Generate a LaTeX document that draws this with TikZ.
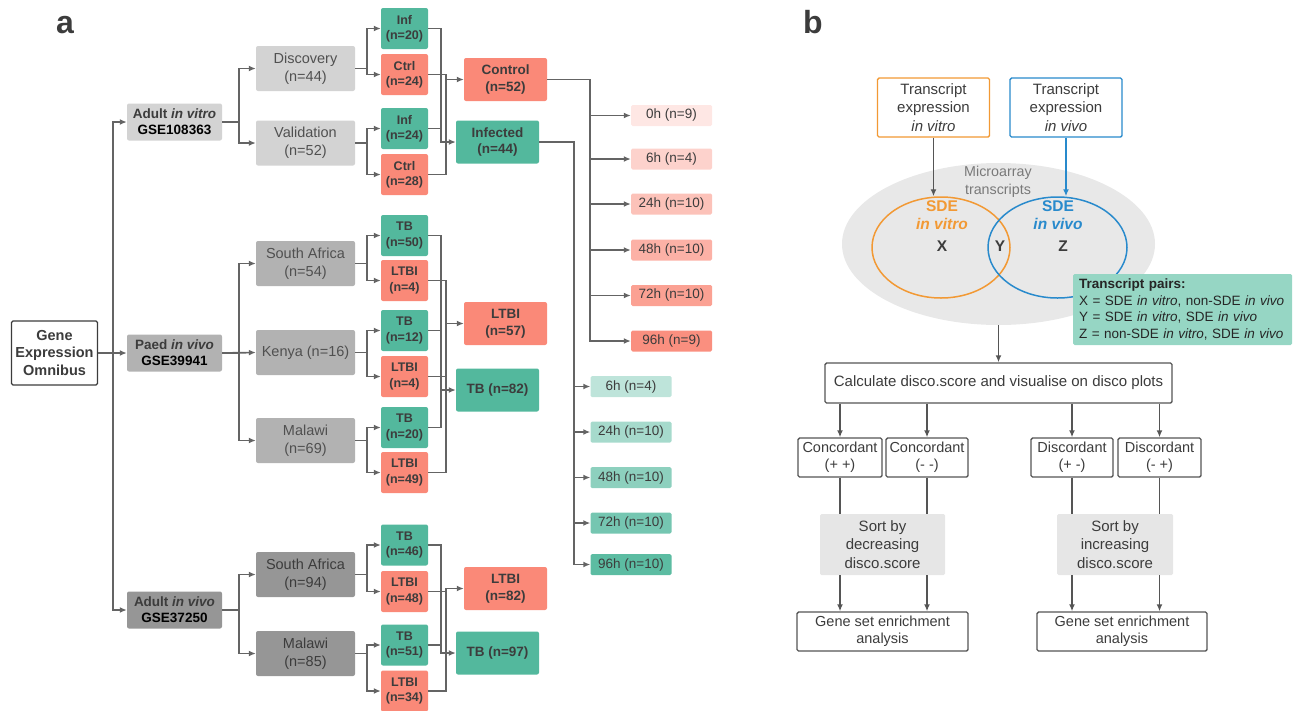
\documentclass[tikz,border=0pt]{standalone}
\usepackage{fontspec}
\setmainfont{Liberation Sans}
\usetikzlibrary{arrows.meta,shapes.geometric}

\definecolor{txt}{RGB}{60,60,60}
\definecolor{linegray}{RGB}{100,100,100}
\definecolor{boxgray}{RGB}{85,85,85}
\definecolor{teal}{RGB}{83,184,157}
\definecolor{salmon}{RGB}{250,137,120}
\definecolor{gray1}{RGB}{211,211,211}
\definecolor{gray2}{RGB}{178,178,178}
\definecolor{gray3}{RGB}{150,150,150}
\definecolor{orangeline}{RGB}{242,153,52}
\definecolor{blueline}{RGB}{40,138,204}
\definecolor{microgray}{RGB}{232,232,232}
\definecolor{pairsfill}{RGB}{150,214,196}
\definecolor{sortfill}{RGB}{230,230,230}

\tikzset{
  conn/.style={draw=linegray, line width=1.7pt},
  geobox/.style={draw=txt, line width=1.4pt, fill=white, rounded corners=1.5pt, align=center,
    minimum width=86pt, minimum height=64pt, inner sep=0pt, text=txt,
    font=\bfseries\fontsize{14.5}{17.5}\selectfont},
  dataset/.style={rounded corners=2pt, align=center, minimum width=95pt, minimum height=37pt,
    inner sep=0pt, text=txt, font=\bfseries\fontsize{13.5}{16}\selectfont},
  cohort/.style={rounded corners=2pt, align=center, minimum width=99pt, minimum height=45pt,
    inner sep=0pt, text=txt!90!white, font=\fontsize{14.5}{17.7}\selectfont},
  group/.style={rounded corners=2pt, align=center, minimum width=47pt, minimum height=41pt,
    inner sep=0pt, text=txt, font=\bfseries\fontsize{12.5}{15.3}\selectfont},
  merged/.style={rounded corners=2pt, align=center, minimum width=83pt, minimum height=43pt,
    inner sep=0pt, text=txt, font=\bfseries\fontsize{13.5}{16.7}\selectfont},
  timept/.style={rounded corners=1.5pt, minimum width=81pt, minimum height=21pt,
    inner sep=0pt, text=txt, font=\fontsize{13.5}{16}\selectfont},
  flowbox/.style={draw=boxgray, line width=1.4pt, fill=white, rounded corners=1.5pt, align=center,
    inner sep=0pt, text=txt, font=\fontsize{14.5}{17.3}\selectfont},
  sortbox/.style={fill=sortfill, rounded corners=1.5pt, align=center, inner sep=0pt, text=txt,
    font=\fontsize{15}{18.7}\selectfont},
  flowarrow/.style={draw=boxgray, line width=1.7pt},
  panel/.style={anchor=base, text=txt, font=\bfseries\fontsize{32}{32}\selectfont}
}

\begin{document}
\begin{tikzpicture}[x=1pt, y=-1pt, >={Latex[length=7pt,width=6pt]}]
    \useasboundingbox (0,0) rectangle (1296,710);

    % Etichette dei pannelli
    \node[panel] (labela) at (65,33) {a};
    \node[panel] (labelb) at (813,33) {b};

    % ---------------- Pannello a ----------------
    % Sorgente dei dati
    \node[geobox] (geo) at (54.5,353) {Gene\\Expression\\Omnibus};

    % Dataset
    \node[dataset, fill=gray1] (avitro) at (174.5,122) {Adult \textit{in vitro}\\\textcolor{black}{GSE108363}};
    \node[dataset, fill=gray2] (paed) at (174.5,353) {Paed \textit{in vivo}\\\textcolor{black}{GSE39941}};
    \node[dataset, fill=gray3] (avivo) at (174.5,610) {Adult \textit{in vivo}\\\textcolor{black}{GSE37250}};

    % Coorti
    \node[cohort, fill=gray1] (disc) at (305.5,68.5) {Discovery\\(n=44)};
    \node[cohort, fill=gray1] (valid) at (305.5,143) {Validation\\(n=52)};
    \node[cohort, fill=gray2] (saP) at (305.5,263.5) {South Africa\\(n=54)};
    \node[cohort, fill=gray2] (kenya) at (305.5,352.5) {Kenya (n=16)};
    \node[cohort, fill=gray2] (malP) at (305.5,440.5) {Malawi\\(n=69)};
    \node[cohort, fill=gray3, text=txt] (saA) at (305.5,574.5) {South Africa\\(n=94)};
    \node[cohort, fill=gray3, text=txt] (malA) at (305.5,653.5) {Malawi\\(n=85)};

    % Gruppi per coorte
    \node[group, fill=teal] (inf1) at (404.5,28.5) {Inf\\(n=20)};
    \node[group, fill=salmon] (ctrl1) at (404.5,74.5) {Ctrl\\(n=24)};
    \node[group, fill=teal] (inf2) at (404.5,128.5) {Inf\\(n=24)};
    \node[group, fill=salmon] (ctrl2) at (404.5,174.5) {Ctrl\\(n=28)};
    \node[group, fill=teal] (tbP1) at (404.5,235.5) {TB\\(n=50)};
    \node[group, fill=salmon] (ltbiP1) at (404.5,280.5) {LTBI\\(n=4)};
    \node[group, fill=teal] (tbP2) at (404.5,330.5) {TB\\(n=12)};
    \node[group, fill=salmon] (ltbiP2) at (404.5,376.5) {LTBI\\(n=4)};
    \node[group, fill=teal] (tbP3) at (404.5,427.5) {TB\\(n=20)};
    \node[group, fill=salmon] (ltbiP3) at (404.5,472.5) {LTBI\\(n=49)};
    \node[group, fill=teal] (tbA1) at (404.5,545) {TB\\(n=46)};
    \node[group, fill=salmon] (ltbiA1) at (404.5,591.5) {LTBI\\(n=48)};
    \node[group, fill=teal] (tbA2) at (404.5,645) {TB\\(n=51)};
    \node[group, fill=salmon] (ltbiA2) at (404.5,691) {LTBI\\(n=34)};

    % Gruppi uniti
    \node[merged, fill=salmon] (control) at (505.5,79.5) {Control\\(n=52)};
    \node[merged, fill=teal] (infd) at (497.5,142) {Infected\\(n=44)};
    \node[merged, fill=salmon] (ltbiP) at (505.5,323.5) {LTBI\\(n=57)};
    \node[merged, fill=teal] (tbP) at (497.5,390) {TB (n=82)};
    \node[merged, fill=salmon] (ltbiA) at (505.5,588.5) {LTBI\\(n=82)};
    \node[merged, fill=teal] (tbA) at (497.5,653) {TB (n=97)};

    % Punti temporali dei controlli
    \node[timept, fill=salmon!20] (c0) at (671.5,115.5) {0h (n=9)};
    \node[timept, fill=salmon!38] (c6) at (671.5,159) {6h (n=4)};
    \node[timept, fill=salmon!52] (c24) at (671.5,204) {24h (n=10)};
    \node[timept, fill=salmon!66] (c48) at (671.5,250) {48h (n=10)};
    \node[timept, fill=salmon!80] (c72) at (671.5,295.5) {72h (n=10)};
    \node[timept, fill=salmon!95] (c96) at (671.5,341) {96h (n=9)};

    % Punti temporali degli infetti
    \node[timept, fill=teal!38] (i6) at (631,386.5) {6h (n=4)};
    \node[timept, fill=teal!52] (i24) at (631,432) {24h (n=10)};
    \node[timept, fill=teal!66] (i48) at (631,477.5) {48h (n=10)};
    \node[timept, fill=teal!80] (i72) at (631,523) {72h (n=10)};
    \node[timept, fill=teal!95] (i96) at (631,564.5) {96h (n=10)};

    % Collegamenti sorgente -> dataset
    \draw[conn, ->] (geo.east) -- ++(15,0) |- (avitro.west);
    \draw[conn, ->] (geo.east) -- (paed.west);
    \draw[conn, ->] (geo.east) -- ++(15,0) |- (avivo.west);

    % Collegamenti dataset -> coorti
    \draw[conn, ->] (avitro.east) -- ++(17,0) |- (disc.west);
    \draw[conn, ->] (avitro.east) -- ++(17,0) |- (valid.west);
    \draw[conn, ->] (paed.east) -- ++(17,0) |- (saP.west);
    \draw[conn, ->] (paed.east) -- (kenya.west);
    \draw[conn, ->] (paed.east) -- ++(17,0) |- (malP.west);
    \draw[conn, ->] (avivo.east) -- ++(17,0) |- (saA.west);
    \draw[conn, ->] (avivo.east) -- ++(17,0) |- (malA.west);

    % Collegamenti coorti -> gruppi
    \draw[conn, ->] (disc.east) -- ++(12,0) |- (inf1.west);
    \draw[conn, ->] (disc.east) -- ++(12,0) |- (ctrl1.west);
    \draw[conn, ->] (valid.east) -- ++(12,0) |- (inf2.west);
    \draw[conn, ->] (valid.east) -- ++(12,0) |- (ctrl2.west);
    \draw[conn, ->] (saP.east) -- ++(12,0) |- (tbP1.west);
    \draw[conn, ->] (saP.east) -- ++(12,0) |- (ltbiP1.west);
    \draw[conn, ->] (kenya.east) -- ++(12,0) |- (tbP2.west);
    \draw[conn, ->] (kenya.east) -- ++(12,0) |- (ltbiP2.west);
    \draw[conn, ->] (malP.east) -- ++(12,0) |- (tbP3.west);
    \draw[conn, ->] (malP.east) -- ++(12,0) |- (ltbiP3.west);
    \draw[conn, ->] (saA.east) -- ++(12,0) |- (tbA1.west);
    \draw[conn, ->] (saA.east) -- ++(12,0) |- (ltbiA1.west);
    \draw[conn, ->] (malA.east) -- ++(12,0) |- (tbA2.west);
    \draw[conn, ->] (malA.east) -- ++(12,0) |- (ltbiA2.west);

    % Bus di unione (TB/Inf e LTBI/Ctrl)
    \coordinate (busT) at (441,0);
    \coordinate (busL) at (446,0);
    \draw[conn, ->] (inf1.east) -- (inf1.east -| busT) |- (infd.west);
    \draw[conn] (inf2.east) -- (inf2.east -| busT);
    \draw[conn] (ctrl1.east) -- (ctrl1.east -| busL) |- (ctrl2.east);
    \draw[conn, ->] (busL |- control.west) -- (control.west);

    \draw[conn] (tbP1.east) -- (tbP1.east -| busT) |- (tbP3.east);
    \draw[conn] (tbP2.east) -- (tbP2.east -| busT);
    \draw[conn, ->] (busT |- tbP.west) -- (tbP.west);
    \draw[conn] (ltbiP1.east) -- (ltbiP1.east -| busL) |- (ltbiP3.east);
    \draw[conn] (ltbiP2.east) -- (ltbiP2.east -| busL);
    \draw[conn, ->] (busL |- ltbiP.west) -- (ltbiP.west);

    \draw[conn, ->] (tbA1.east) -- (tbA1.east -| busT) |- (tbA.west);
    \draw[conn] (tbA2.east) -- (tbA2.east -| busT);
    \draw[conn, ->] (ltbiA2.east) -- (ltbiA2.east -| busL) |- (ltbiA.west);
    \draw[conn] (ltbiA1.east) -- (ltbiA1.east -| busL);

    % Ramificazione verso i punti temporali
    \coordinate (busC) at (590,0);
    \coordinate (busI) at (574,0);
    \draw[conn, ->] (control.east) -- (control.east -| busC) |- (c96.west);
    \draw[conn, ->] (c0.west -| busC) -- (c0.west);
    \draw[conn, ->] (c6.west -| busC) -- (c6.west);
    \draw[conn, ->] (c24.west -| busC) -- (c24.west);
    \draw[conn, ->] (c48.west -| busC) -- (c48.west);
    \draw[conn, ->] (c72.west -| busC) -- (c72.west);
    \draw[conn, ->] (infd.east) -- (infd.east -| busI) |- (i96.west);
    \draw[conn, ->] (i6.west -| busI) -- (i6.west);
    \draw[conn, ->] (i24.west -| busI) -- (i24.west);
    \draw[conn, ->] (i48.west -| busI) -- (i48.west);
    \draw[conn, ->] (i72.west -| busI) -- (i72.west);

    % ---------------- Pannello b ----------------
    % Espressione dei trascritti
    \node[flowbox, draw=orangeline, minimum width=112pt, minimum height=59pt, font=\fontsize{15}{18.3}\selectfont] (vitro) at (933.5,107.5) {Transcript\\expression\\\textit{in vitro}};
    \node[flowbox, draw=blueline, minimum width=112pt, minimum height=59pt, font=\fontsize{15}{18.3}\selectfont] (vivo) at (1066,107.5) {Transcript\\expression\\\textit{in vivo}};

    % Diagramma di Venn
    \node[ellipse, fill=microgray, minimum width=313pt, minimum height=162pt, inner sep=0pt] (micro) at (998.5,244) {};
    \node[text=gray!95!black, align=center, font=\fontsize{14.3}{18}\selectfont] (microlbl) at (998,182) {Microarray\\transcripts};
    \node[ellipse, draw=orangeline, line width=1.5pt, minimum width=138pt, minimum height=101pt, inner sep=0pt] (sdevitro) at (941,247.5) {};
    \node[ellipse, draw=blueline, line width=1.5pt, minimum width=139pt, minimum height=101pt, inner sep=0pt] (sdevivo) at (1057.5,247.5) {};
    \node[text=orangeline, align=center, font=\bfseries\fontsize{15.5}{18}\selectfont] (sdevitrolbl) at (942,215) {SDE\\\textit{in vitro}};
    \node[text=blueline, align=center, font=\bfseries\fontsize{15.5}{18}\selectfont] (sdevivolbl) at (1058,215) {SDE\\\textit{in vivo}};
    \node[text=txt, font=\bfseries\fontsize{15.5}{18}\selectfont] (setx) at (942,246) {X};
    \node[text=txt, font=\bfseries\fontsize{15.5}{18}\selectfont] (sety) at (1000,246) {Y};
    \node[text=txt, font=\bfseries\fontsize{15.5}{18}\selectfont] (setz) at (1063,246) {Z};

    % Legenda delle coppie
    \node[fill=pairsfill, rounded corners=1.5pt, text width=207pt, align=left, inner xsep=6pt, inner ysep=0pt,
          minimum height=71pt, text=black!85, font=\fontsize{13.5}{16.7}\selectfont] (pairs) at (1182.5,309.5)
          {\textbf{Transcript pairs:}\\X = SDE \textit{in vitro}, non-SDE \textit{in vivo}\\Y = SDE \textit{in vitro}, SDE \textit{in vivo}\\Z = non-SDE \textit{in vitro}, SDE \textit{in vivo}};

    \draw[flowarrow, ->] (vitro.south) -- (vitro.south |- sdevitro.north);
    \draw[->, draw=blueline, line width=1.7pt] (vivo.south) -- (vivo.south |- sdevivo.north);

    % Calcolo e classificazione
    \node[flowbox, minimum width=347pt, minimum height=40pt, font=\fontsize{15}{18}\selectfont] (calc) at (998.5,383) {Calculate disco.score and visualise on disco plots};
    \node[flowbox, minimum width=84pt, minimum height=39pt] (conc1) at (840,457.5) {Concordant\\(+ +)};
    \node[flowbox, minimum width=82pt, minimum height=39pt] (conc2) at (927,457.5) {Concordant\\(- -)};
    \node[flowbox, minimum width=82pt, minimum height=39pt] (disc1) at (1072,457.5) {Discordant\\(+ -)};
    \node[flowbox, minimum width=83pt, minimum height=39pt] (disc2) at (1159.5,457.5) {Discordant\\(- +)};
    \node[sortbox, minimum width=125pt, minimum height=61pt] (sortdec) at (882.5,544.5) {Sort by\\decreasing\\disco.score};
    \node[sortbox, minimum width=116pt, minimum height=61pt] (sortinc) at (1115,544.5) {Sort by\\increasing\\disco.score};
    \node[flowbox, minimum width=171pt, minimum height=39pt] (gsea1) at (882.5,631.5) {Gene set enrichment\\analysis};
    \node[flowbox, minimum width=170pt, minimum height=39pt] (gsea2) at (1122,631.5) {Gene set enrichment\\analysis};

    \draw[flowarrow, ->] (micro.south) -- (calc.north);
    \draw[flowarrow, ->] (calc.south -| conc1) -- (conc1.north);
    \draw[flowarrow, ->] (calc.south -| conc2) -- (conc2.north);
    \draw[flowarrow, ->] (calc.south -| disc1) -- (disc1.north);
    \draw[flowarrow, ->] (calc.south -| disc2) -- (disc2.north);

    \draw[flowarrow] (conc1.south) -- (conc1.south |- sortdec.north);
    \draw[flowarrow] (conc2.south) -- (conc2.south |- sortdec.north);
    \draw[flowarrow] (disc1.south) -- (disc1.south |- sortinc.north);
    \draw[flowarrow] (disc2.south) -- (disc2.south |- sortinc.north);

    \draw[flowarrow, ->] (sortdec.south -| conc1) -- (gsea1.north -| conc1);
    \draw[flowarrow, ->] (sortdec.south -| conc2) -- (gsea1.north -| conc2);
    \draw[flowarrow, ->] (sortinc.south -| disc1) -- (gsea2.north -| disc1);
    \draw[flowarrow, ->] (sortinc.south -| disc2) -- (gsea2.north -| disc2);
\end{tikzpicture}
\end{document}
